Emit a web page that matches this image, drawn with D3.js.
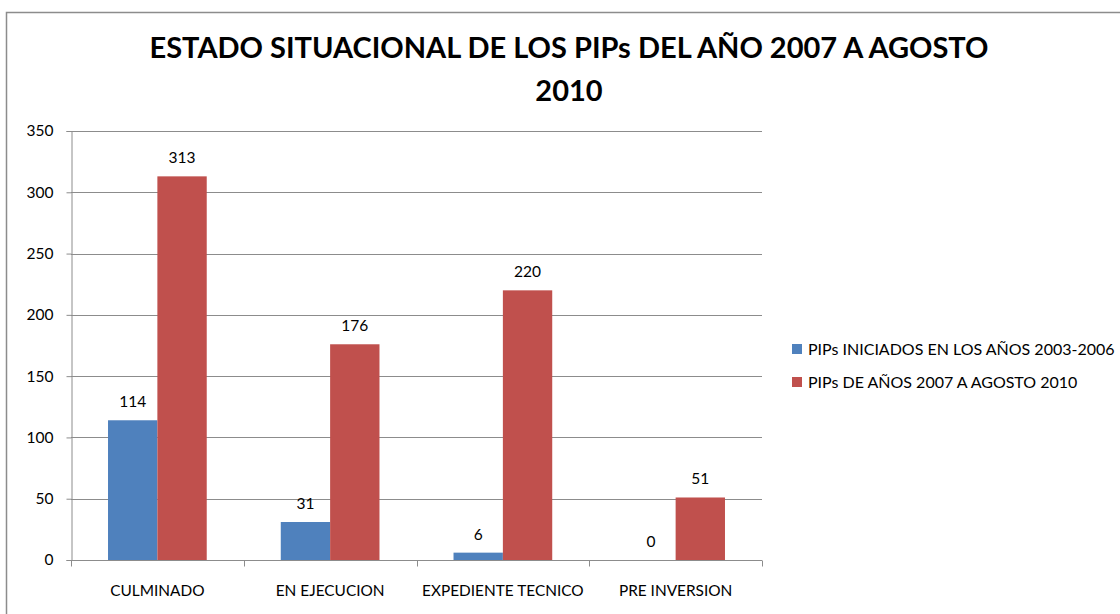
<!DOCTYPE html>
<html>
<head>
<meta charset="utf-8">
<script src="https://cdn.jsdelivr.net/npm/d3@7"></script>
<style>
  html, body { margin:0; padding:0; background:#fff; }
  svg { display:block; }
</style>
</head>
<body>
<svg id="chart" width="1120" height="614"></svg>
<script>
/* ===== Estado situacional de los PIPs — grouped bars ===== */

const CATEGORIES = ["CULMINADO", "EN EJECUCION", "EXPEDIENTE TECNICO", "PRE INVERSION"];
const SERIES_NAMES = ["PIPs INICIADOS EN LOS AÑOS 2003-2006", "PIPs DE AÑOS 2007 A AGOSTO 2010"];
const SERIES_2003_2006 = [114, 31, 6, 0];
const SERIES_2007_2010 = [313, 176, 220, 51];
const Y_TICKS = [0, 50, 100, 150, 200, 250, 300, 350];
const TITLE_LINES = ["ESTADO SITUACIONAL DE LOS PIPs DEL AÑO 2007 A AGOSTO", "2010"];

const COLORS = ["#4F81BD", "#C0504D"];
const FONT = "Lato, 'Open Sans', sans-serif";

const P = { l:71, r:762, t:131, b:560 };

const svg = d3.select("#chart");

// outer chart border
svg.append("rect")
  .attr("x",6.5).attr("y",12.5).attr("width",1130).attr("height",620)
  .attr("fill","#fff").attr("stroke","#8c8c8c").attr("stroke-width",1.5);

// title
const title = svg.append("text")
  .attr("text-anchor","middle")
  .attr("font-family",FONT).attr("font-weight",700).attr("font-size",29)
  .attr("fill","#000");
TITLE_LINES.forEach((t,i)=>{
  title.append("tspan").attr("x",569).attr("y",58 + i*43).text(t);
});

// scales
const x0 = d3.scaleBand().domain(CATEGORIES).range([P.l, P.r]).paddingInner(0).paddingOuter(0);
const x1 = d3.scaleBand().domain([0,1]).range([0, x0.bandwidth()]).paddingInner(0).paddingOuter(0.75);
const y  = d3.scaleLinear().domain([0,350]).range([P.b, P.t]);

// gridlines
svg.append("g").selectAll("line").data(Y_TICKS.filter(v=>v>0)).join("line")
  .attr("x1",P.l).attr("x2",P.r)
  .attr("y1",d=>Math.round(y(d))+0.5).attr("y2",d=>Math.round(y(d))+0.5)
  .attr("stroke","#8c8c8c").attr("stroke-width",1);

// y axis
const yAxis = svg.append("g").attr("transform",`translate(${P.l+0.5},0)`)
  .call(d3.axisLeft(y).tickValues(Y_TICKS).tickSize(5).tickPadding(13));
yAxis.select(".domain").attr("stroke","#8c8c8c");
yAxis.selectAll(".tick line").attr("stroke","#8c8c8c");
yAxis.selectAll(".tick text").attr("font-family",FONT).attr("font-size",15.5).attr("fill","#000");

// bars
const rows = CATEGORIES.map((c,i)=>({ cat:c, vals:[SERIES_2003_2006[i], SERIES_2007_2010[i]] }));
const groups = svg.append("g").selectAll("g").data(rows).join("g")
  .attr("transform",d=>`translate(${x0(d.cat)},0)`);

groups.selectAll("rect").data(d=>d.vals.map((v,k)=>({v,k}))).join("rect")
  .attr("x",d=>x1(d.k)).attr("width",x1.bandwidth())
  .attr("y",d=>y(d.v)).attr("height",d=>y(0)-y(d.v))
  .attr("fill",d=>COLORS[d.k]);

groups.selectAll("text").data(d=>d.vals.map((v,k)=>({v,k}))).join("text")
  .attr("x",d=>x1(d.k)+x1.bandwidth()/2)
  .attr("y",d=>y(d.v)-13)
  .attr("text-anchor","middle")
  .attr("font-family",FONT).attr("font-size",15.5).attr("fill","#000")
  .text(d=>d.v);

// x axis
const xAxis = svg.append("g").attr("transform",`translate(0,${P.b+0.5})`);
xAxis.append("line").attr("x1",P.l).attr("x2",P.r).attr("stroke","#8c8c8c");
xAxis.selectAll("line.tk").data(d3.range(CATEGORIES.length+1)).join("line")
  .attr("class","tk")
  .attr("x1",i=>Math.round(P.l + i*x0.step())+0.5).attr("x2",i=>Math.round(P.l + i*x0.step())+0.5)
  .attr("y1",0).attr("y2",6).attr("stroke","#8c8c8c");
xAxis.selectAll("text").data(CATEGORIES).join("text")
  .attr("x",d=>x0(d)+x0.bandwidth()/2).attr("y",35)
  .attr("text-anchor","middle")
  .attr("font-family",FONT).attr("font-size",15.4).attr("fill","#000")
  .text(d=>d);

// legend
const legend = svg.append("g").attr("transform","translate(792,0)");
SERIES_NAMES.forEach((name,i)=>{
  const cy = 349 + i*33;
  legend.append("rect").attr("x",0).attr("y",cy-5).attr("width",10).attr("height",10).attr("fill",COLORS[i]);
  legend.append("text").attr("x",16).attr("y",cy+5.5)
    .attr("font-family",FONT).attr("font-size",16).attr("fill","#000")
    .text(name);
});
</script>
</body>
</html>
